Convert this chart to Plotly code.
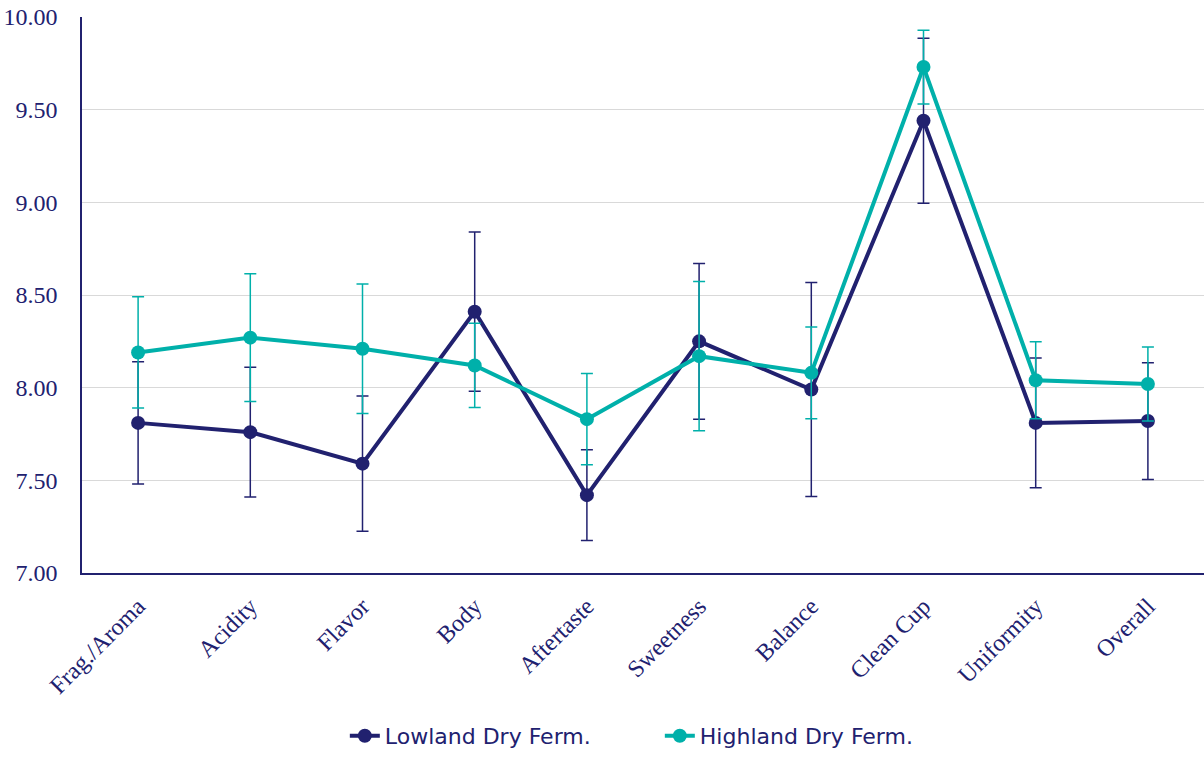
import plotly.graph_objects as go

categories = ["Frag./Aroma", "Acidity", "Flavor", "Body", "Aftertaste",
              "Sweetness", "Balance", "Clean Cup", "Uniformity", "Overall"]
lowland = [7.81, 7.76, 7.59, 8.41, 7.42, 8.25, 7.99, 9.44, 7.81, 7.82]
lowland_err = [0.33, 0.35, 0.365, 0.43, 0.245, 0.42, 0.577, 0.445, 0.35, 0.315]
highland = [8.19, 8.27, 8.21, 8.12, 7.83, 8.17, 8.08, 9.73, 8.04, 8.02]
highland_err = [0.30, 0.345, 0.35, 0.227, 0.246, 0.403, 0.248, 0.199, 0.208, 0.20]
y_ticks = [7.0, 7.5, 8.0, 8.5, 9.0, 9.5, 10.0]

navy = "#21216F"
teal = "#00B0AA"

fig = go.Figure()
fig.add_trace(go.Scatter(
    x=categories, y=lowland, name="Lowland Dry Ferm.", mode="lines+markers",
    line=dict(color=navy, width=4), marker=dict(color=navy, size=14),
    error_y=dict(type="data", array=lowland_err, visible=True,
                 color=navy, thickness=1.5, width=6),
))
fig.add_trace(go.Scatter(
    x=categories, y=highland, name="Highland Dry Ferm.", mode="lines+markers",
    line=dict(color=teal, width=4), marker=dict(color=teal, size=14),
    error_y=dict(type="data", array=highland_err, visible=True,
                 color=teal, thickness=1.5, width=6),
))

fig.update_layout(
    width=1204, height=757,
    margin=dict(l=82, r=0, t=17, b=180),
    plot_bgcolor="white", paper_bgcolor="white",
    showlegend=True,
    legend=dict(orientation="h", x=0.515, xanchor="center", y=-0.293, yanchor="middle",
                font=dict(family="DejaVu Sans", size=22, color=navy),
                entrywidth=270, entrywidthmode="pixels"),
    xaxis=dict(
        type="category", tickangle=-45, showgrid=False,
        showline=True, linecolor=navy, linewidth=1.5,
        ticks="", ticklabelstandoff=8,
        tickfont=dict(family="Liberation Serif", size=24, color=navy),
        range=[-0.5, 9.5],
    ),
    yaxis=dict(
        range=[7.0, 10.0], tickvals=y_ticks,
        ticktext=[f"{v:.2f}" for v in y_ticks],
        showgrid=True, gridcolor="#D9D9D9", gridwidth=1.2,
        showline=True, linecolor=navy, linewidth=1.5, zeroline=False,
        ticks="", ticklabelstandoff=18,
        tickfont=dict(family="Liberation Serif", size=24, color=navy),
    ),
)

fig.write_html("out.html")
